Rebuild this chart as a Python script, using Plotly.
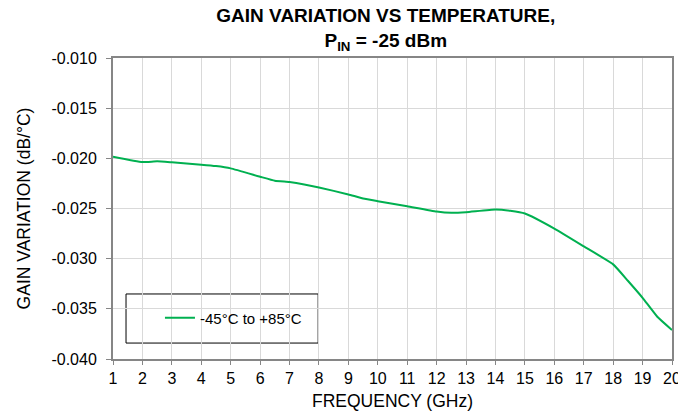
import plotly.graph_objects as go

freq = [1, 2, 2.5, 3, 4, 4.5, 5, 6, 6.5, 7, 7.5, 8, 9, 9.5, 10, 11, 12, 12.5,
        13, 14, 14.5, 15, 16, 17, 18, 18.5, 19, 19.5, 20]
gain_var = [-0.01983, -0.02037, -0.02030, -0.02040, -0.02063, -0.02077, -0.02100,
            -0.02183, -0.02223, -0.02237, -0.02260, -0.02290, -0.02360, -0.02400,
            -0.02427, -0.02477, -0.02530, -0.02543, -0.02537, -0.02510, -0.02523,
            -0.02550, -0.02700, -0.02877, -0.03057, -0.03220, -0.03390, -0.03579,
            -0.03711]
series_name = "-45°C to +85°C"
x_ticks = list(range(1, 21))
y_ticks = [-0.010, -0.015, -0.020, -0.025, -0.030, -0.035, -0.040]

FONT = "Liberation Sans, Arial, sans-serif"
AXIS = "#868686"
GRID = "#d9d9d9"

fig = go.Figure()
fig.add_trace(go.Scatter(
    x=freq, y=gain_var, mode="lines", name=series_name,
    line=dict(color="#00b050", width=2, shape="spline", smoothing=0.4),
))

fig.update_layout(
    width=678, height=413,
    margin=dict(l=113, r=6, t=58, b=54, autoexpand=False),
    paper_bgcolor="white", plot_bgcolor="white",
    font=dict(family=FONT, color="black", size=16),
    title=dict(
        text="<b>GAIN VARIATION VS TEMPERATURE,<br>P<sub>IN</sub> = -25 dBm</b>",
        x=0.569, xref="container", xanchor="center",
        y=0.946, yref="container", yanchor="top",
        font=dict(family=FONT, size=19, color="black"),
    ),
    showlegend=True,
    legend=dict(
        x=0.084, y=0.136, xanchor="left", yanchor="middle",
        bgcolor="rgba(0,0,0,0)", borderwidth=0,
        font=dict(family=FONT, size=15, color="black"),
    ),
    shapes=[dict(
        type="rect", xref="paper", yref="paper",
        x0=0.0233, x1=0.367, y0=0.053, y1=0.216,
        line=dict(color="black", width=1), fillcolor="white", layer="below",
    )],
)

fig.update_xaxes(
    range=[1, 20], tickvals=x_ticks, ticktext=[str(v) for v in x_ticks],
    ticklabeloverflow="allow",
    showgrid=True, gridcolor=GRID, gridwidth=1,
    showline=True, linecolor=AXIS, linewidth=2, mirror=True,
    ticks="outside", ticklen=4, tickcolor=AXIS, tickwidth=1,
    zeroline=False, automargin=False,
    title=dict(text="FREQUENCY (GHz)", standoff=9, font=dict(size=17.5)),
    tickfont=dict(size=16),
)
fig.update_yaxes(
    range=[-0.040, -0.010], tickvals=y_ticks, ticktext=[f"{v:.3f}" for v in y_ticks],
    showgrid=True, gridcolor=GRID, gridwidth=1,
    showline=True, linecolor=AXIS, linewidth=2, mirror=True,
    ticks="outside", ticklen=5, tickcolor=AXIS, tickwidth=1,
    ticklabelstandoff=6,
    zeroline=False, automargin=False,
    title=dict(text="GAIN VARIATION (dB/°C)", standoff=16, font=dict(size=17.5)),
    tickfont=dict(size=16),
)

fig.write_html(
    "out.html",
    config={"displayModeBar": False},
    post_script="document.body.style.margin='0';document.body.style.overflow='hidden';",
)
